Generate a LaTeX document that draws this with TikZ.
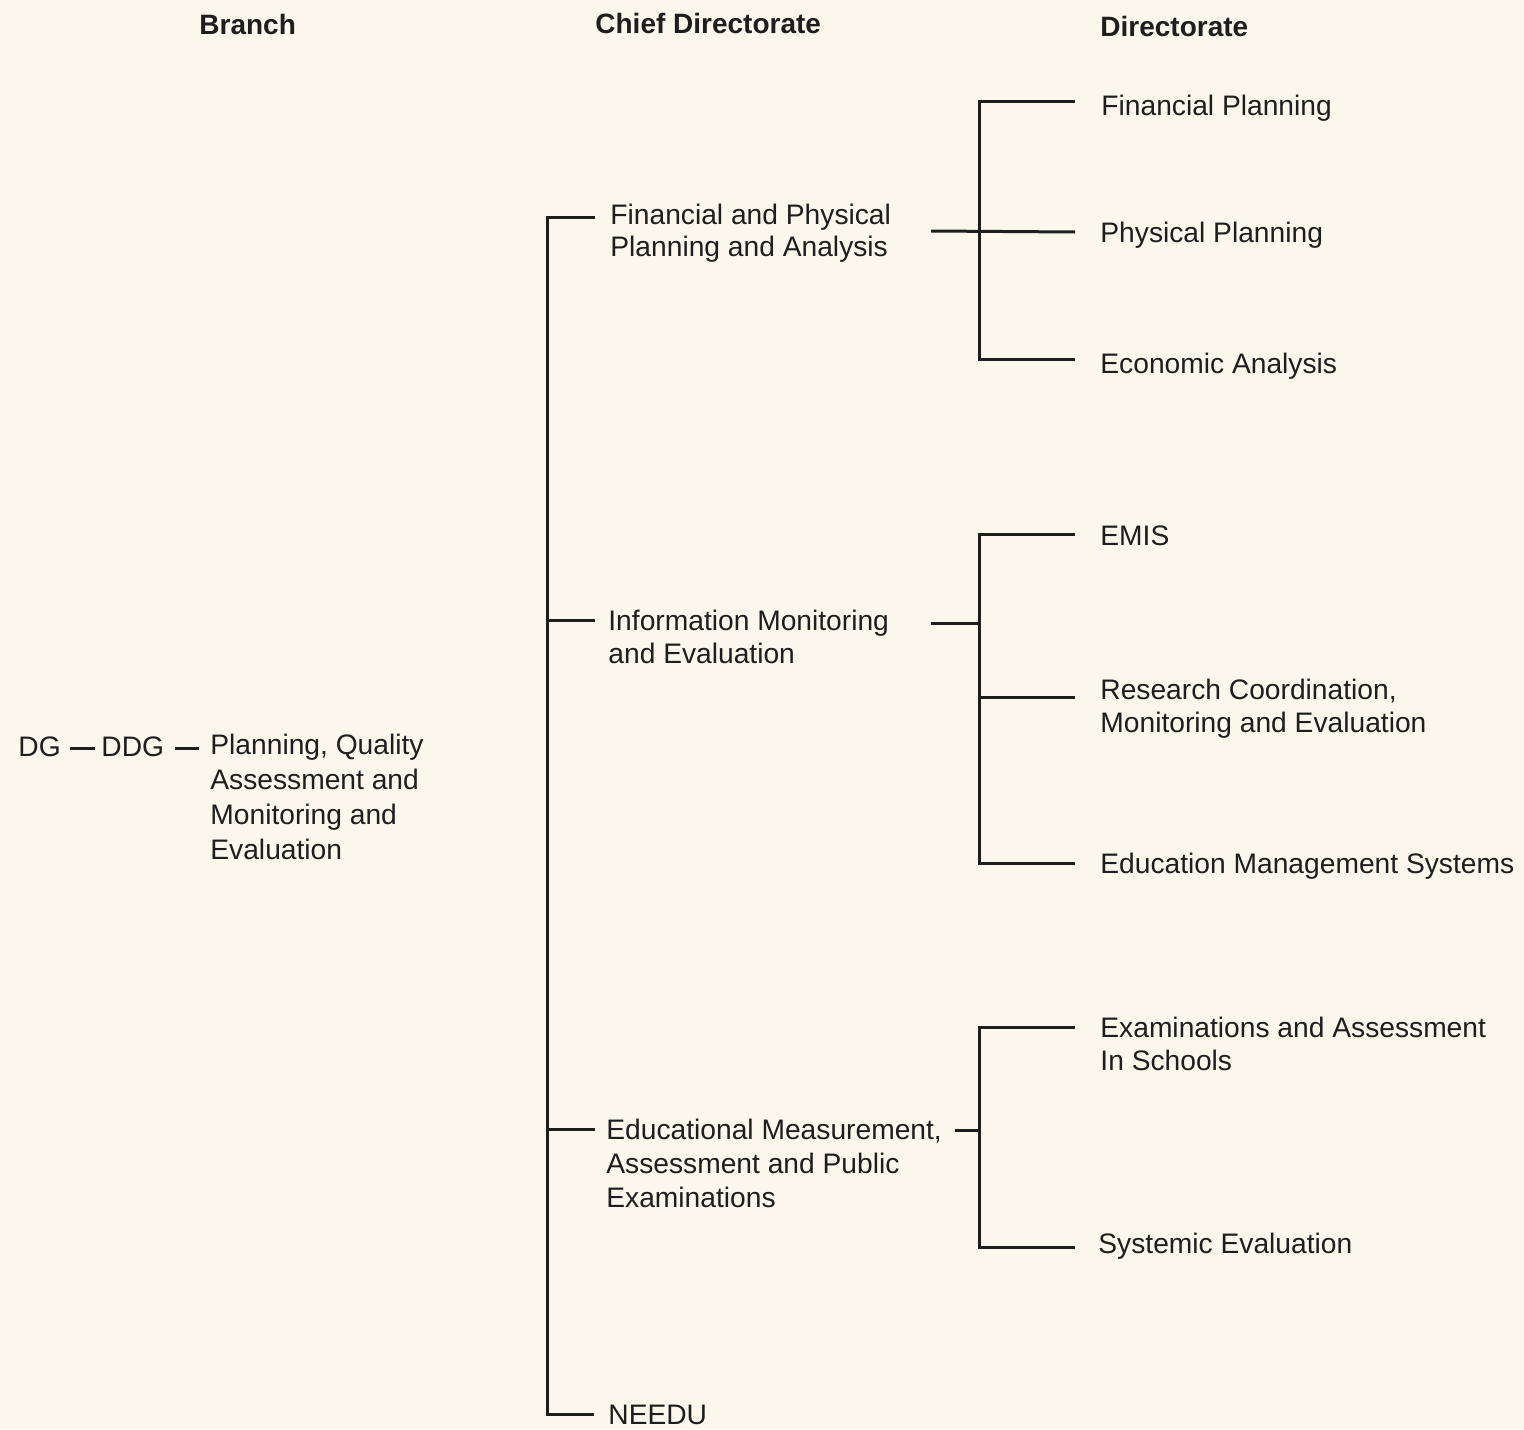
\documentclass[tikz,border=0pt]{standalone}
\usepackage{fontspec}
\setmainfont{Liberation Sans}
\definecolor{bgcream}{RGB}{251,247,237}
\definecolor{ink}{RGB}{30,30,30}
\begin{document}
\begin{tikzpicture}[x=0.5pt,y=-0.5pt,
  lbl/.style={anchor=base west,inner sep=0pt,align=left,text=ink,
    font=\fontsize{14.1}{16.5}\selectfont},
  hdr/.style={anchor=base west,inner sep=0pt,text=ink,
    font=\fontsize{14}{16}\selectfont\bfseries},
  conn/.style={draw=ink,line width=1.5pt}]
\fill[bgcream] (0,0) rectangle (1524,1429);
\useasboundingbox (0,0) rectangle (1524,1429);

% headers
\node[hdr] (hbranch) at (199,35) {Branch};
\node[hdr] (hchief) at (595,34) {Chief Directorate};
\node[hdr] (hdir) at (1100,37) {Directorate};

% branch (multi-line nodes are placed by the baseline of their last line)
\node[lbl] (dg) at (18,756) {DG};
\node[lbl] (ddg) at (101,756) {DDG};
\node[lbl,font=\fontsize{14.1}{17.4}\selectfont] (pq) at (210,859) {Planning, Quality\\Assessment and\\Monitoring and\\Evaluation};
\coordinate (b1) at (70,748);
\coordinate (b2) at (95,748);
\coordinate (b3) at (175,748);
\coordinate (b4) at (199,748);
\draw[conn] (b1) -- (b2);
\draw[conn] (b3) -- (b4);

% chief directorates
\node[lbl,font=\fontsize{14.1}{15.6}\selectfont] (c1) at (610,256) {Financial and Physical\\Planning and Analysis};
\node[lbl] (c2) at (608,663) {Information Monitoring\\and Evaluation};
\node[lbl,font=\fontsize{14.1}{17}\selectfont] (c3) at (606,1207) {Educational Measurement,\\Assessment and Public\\Examinations};
\node[lbl] (c4) at (608,1424) {NEEDU};

% directorates
\node[lbl] (d11) at (1101,116) {Financial Planning};
\node[lbl] (d12) at (1100,242) {Physical Planning};
\node[lbl] (d13) at (1100,373) {Economic Analysis};
\node[lbl] (d21) at (1100,545) {EMIS};
\node[lbl] (d22) at (1100,732) {Research Coordination,\\Monitoring and Evaluation};
\node[lbl] (d23) at (1100,873) {Education Management Systems};
\node[lbl] (d31) at (1100,1070) {Examinations and Assessment\\In Schools};
\node[lbl] (d32) at (1098,1253) {Systemic Evaluation};

% chief bar
\coordinate (cb1) at (547,217);
\coordinate (cb2) at (547,620);
\coordinate (cb3) at (547,1129);
\coordinate (cb4) at (547,1414);
\coordinate (ct1) at (595,217);
\coordinate (ct2) at (595,620);
\coordinate (ct3) at (595,1129);
\coordinate (ct4) at (594,1414);
\draw[conn] (ct1) -- (cb1) -- (cb4) -- (ct4);
\draw[conn] (cb2) -- (ct2);
\draw[conn] (cb3) -- (ct3);

% group 1
\coordinate (g1a) at (979,102);
\coordinate (g1c) at (979,359);
\coordinate (g1s) at (931,231);
\coordinate (e11) at (1075,102);
\coordinate (e12) at (1075,232);
\coordinate (e13) at (1075,359);
\draw[conn] (e11) -- (g1a) -- (g1c) -- (e13);
\draw[conn] (g1s) -- (e12);

% group 2
\coordinate (g2a) at (979,534);
\coordinate (g2m) at (979,623);
\coordinate (g2b) at (979,697);
\coordinate (g2c) at (979,863);
\coordinate (g2s) at (931,623);
\coordinate (e21) at (1075,534);
\coordinate (e22) at (1075,697);
\coordinate (e23) at (1075,863);
\draw[conn] (e21) -- (g2a) -- (g2c) -- (e23);
\draw[conn] (g2b) -- (e22);
\draw[conn] (g2s) -- (g2m);

% group 3
\coordinate (g3a) at (979,1027);
\coordinate (g3m) at (979,1130);
\coordinate (g3c) at (979,1247);
\coordinate (g3s) at (955,1130);
\coordinate (e31) at (1075,1027);
\coordinate (e32) at (1075,1247);
\draw[conn] (e31) -- (g3a) -- (g3c) -- (e32);
\draw[conn] (g3s) -- (g3m);
\end{tikzpicture}
\end{document}
